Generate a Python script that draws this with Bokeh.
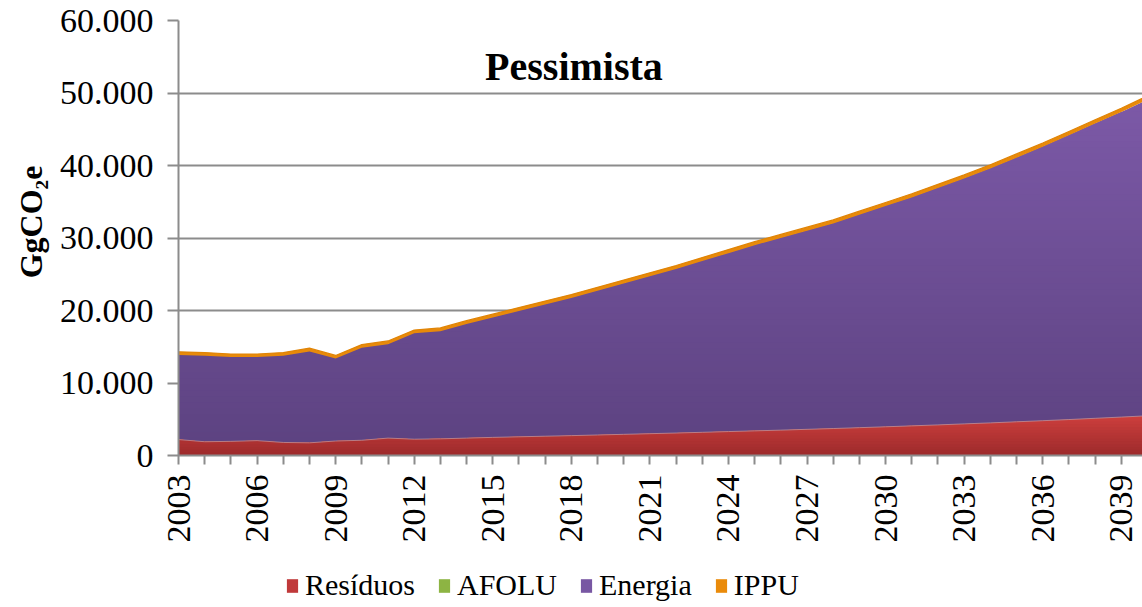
import numpy as np
from bokeh.plotting import figure
from bokeh.layouts import column
from bokeh.models import Range1d, FixedTicker, Label, Legend, LegendItem
from bokeh.embed import file_html
from bokeh.resources import INLINE

# ---------------- data (GgCO2e) ----------------
years = [2003, 2004, 2005, 2006, 2007, 2008, 2009, 2010, 2011, 2012,
         2013, 2014, 2015, 2016, 2017, 2018, 2019, 2020, 2021, 2022,
         2023, 2024, 2025, 2026, 2027, 2028, 2029, 2030, 2031, 2032,
         2033, 2034, 2035, 2036, 2037, 2038, 2039, 2040]

residuos = [2200, 1900, 1950, 2050, 1800, 1750, 2000, 2100, 2400, 2250,
            2300, 2400, 2500, 2580, 2660, 2740, 2830, 2920, 3010, 3100,
            3200, 3300, 3400, 3500, 3610, 3720, 3840, 3960, 4090, 4220,
            4360, 4500, 4650, 4800, 4960, 5130, 5300, 5480]

afolu = [0, 0, 0, 0, 0, 0, 0, 0, 0, 0,
         0, 0, 0, 0, 0, 0, 0, 0, 0, 0,
         0, 0, 0, 0, 0, 0, 0, 0, 0, 0,
         0, 0, 0, 0, 0, 0, 0, 0]

energia = [11650, 11860, 11620, 11520, 11960, 12600, 11380, 12760, 12960, 14600,
           14850, 15750, 16540, 17360, 18180, 18990, 19900, 20810, 21710, 22620,
           23620, 24610, 25610, 26510, 27390, 28280, 29360, 30440, 31500, 32670,
           33830, 35090, 36430, 37780, 39220, 40650, 42070, 43590]

ippu = [450, 440, 430, 430, 440, 450, 420, 440, 440, 450,
        450, 450, 460, 460, 460, 470, 470, 470, 480, 480,
        480, 490, 490, 490, 500, 500, 500, 500, 510, 510,
        510, 510, 520, 520, 520, 520, 530, 530]

series_names = ["Resíduos", "AFOLU", "Energia", "IPPU"]
series_colors = ["#c0393a", "#8db443", "#7857a3", "#ea8b0a"]
y_ticks = [0, 10000, 20000, 30000, 40000, 50000, 60000]
y_labels = ["0", "10.000", "20.000", "30.000", "40.000", "50.000", "60.000"]
x_label_years = [2003, 2006, 2009, 2012, 2015, 2018, 2021, 2024, 2027, 2030, 2033, 2036, 2039]

# ---------------- styling helpers ----------------
FONT = "Liberation Serif"


def hex2rgb(h):
    h = h.lstrip("#")
    return [int(h[i:i + 2], 16) for i in (0, 2, 4)]


def mix(c_low, c_high, t):
    a, b = hex2rgb(c_low), hex2rgb(c_high)
    return "#%02x%02x%02x" % tuple(int(round(a[i] + (b[i] - a[i]) * t)) for i in range(3))


x = np.array(years, dtype=float)
r = np.array(residuos, dtype=float)
s1 = r + np.array(afolu, dtype=float)
s2 = s1 + np.array(energia, dtype=float)
s3 = s2 + np.array(ippu, dtype=float)

p = figure(width=1142, height=560,
           x_range=Range1d(2003, 2039.81), y_range=Range1d(0, 60000),
           output_backend="svg", toolbar_location=None,
           min_border_left=178, min_border_right=0,
           min_border_top=20, min_border_bottom=105)
p.background_fill_color = "white"
p.border_fill_color = "white"
p.outline_line_color = None

# Energia (purple) vertical gradient, built as nested bands
PURPLE_LOW, PURPLE_HIGH = "#5c4280", "#7c59a7"
n_p = 60
vmax_p = s2.max()
for k in range(n_p, 0, -1):
    top = vmax_p * k / n_p
    col = mix(PURPLE_LOW, PURPLE_HIGH, (k - 0.5) / n_p)
    p.varea(x=x, y1=np.zeros_like(x), y2=np.minimum(s2, top),
            fill_color=col, fill_alpha=1.0)

# AFOLU (zero-height) stacked layer
p.varea(x=x, y1=r, y2=s1, fill_color=series_colors[1])

# Resíduos (red) vertical gradient
RED_LOW, RED_HIGH = "#9c2a2b", "#cd3f3d"
n_r = 14
vmax_r = r.max()
for k in range(n_r, 0, -1):
    top = vmax_r * k / n_r
    col = mix(RED_LOW, RED_HIGH, (k - 0.5) / n_r)
    p.varea(x=x, y1=np.zeros_like(x), y2=np.minimum(r, top),
            fill_color=col, fill_alpha=1.0)
p.line(x, r, line_color="#b8909c", line_width=1, line_alpha=0.8)

# IPPU (thin orange band on top)
p.varea(x=x, y1=s2, y2=s3, fill_color="#e88a0a")
p.line(x, s3, line_color="#e08406", line_width=1.2)

# ---------------- axes ----------------
GRAY = "#8c8c8c"
p.xgrid.visible = False
p.ygrid.ticker = FixedTicker(ticks=y_ticks)
p.ygrid.grid_line_color = GRAY
p.ygrid.grid_line_width = 2

p.yaxis.ticker = FixedTicker(ticks=y_ticks)
p.yaxis.major_label_overrides = dict(zip(y_ticks, y_labels))
p.yaxis.major_label_text_font = FONT
p.yaxis.major_label_text_font_size = "34px"
p.yaxis.major_label_text_color = "black"
p.yaxis.major_label_standoff = 14
p.yaxis.major_tick_out = 11
p.yaxis.major_tick_in = 0
p.yaxis.minor_tick_line_color = None
p.yaxis.axis_line_color = GRAY
p.yaxis.axis_line_width = 2
p.yaxis.major_tick_line_color = GRAY
p.yaxis.major_tick_line_width = 2
p.yaxis.axis_label = "\u2002\u2002GgCO\u2082e"
p.yaxis.axis_label_text_font = FONT
p.yaxis.axis_label_text_font_size = "32px"
p.yaxis.axis_label_text_font_style = "bold"
p.yaxis.axis_label_text_color = "black"
p.yaxis.axis_label_standoff = 8

p.xaxis.ticker = FixedTicker(ticks=years)
p.xaxis.major_label_overrides = {yr: (str(yr) if yr in x_label_years else "") for yr in years}
p.xaxis.major_label_orientation = np.pi / 2
p.xaxis.major_label_text_font = FONT
p.xaxis.major_label_text_font_size = "34px"
p.xaxis.major_label_text_color = "black"
p.xaxis.major_label_standoff = 10
p.xaxis.major_tick_out = 9
p.xaxis.major_tick_in = 0
p.xaxis.minor_tick_line_color = None
p.xaxis.axis_line_color = GRAY
p.xaxis.axis_line_width = 2
p.xaxis.major_tick_line_color = GRAY
p.xaxis.major_tick_line_width = 2

# ---------------- title inside plot ----------------
p.add_layout(Label(x=2018.1, y=53600, text="Pessimista", text_font=FONT,
                   text_font_size="40px", text_font_style="bold",
                   text_align="center", text_baseline="alphabetic",
                   text_color="black"))

# ---------------- legend (separate strip below the chart) ----------------
lg = figure(width=1142, height=47, x_range=Range1d(0, 1), y_range=Range1d(0, 1),
            output_backend="svg", toolbar_location=None,
            min_border_left=0, min_border_right=0, min_border_top=0, min_border_bottom=0)
lg.axis.visible = False
lg.grid.visible = False
lg.outline_line_color = None
lg.background_fill_color = "white"
lg.border_fill_color = "white"

items = []
for name, col in zip(series_names, series_colors):
    rr = lg.varea(x=[0], y1=[0], y2=[0], fill_color=col)
    items.append(LegendItem(label=name, renderers=[rr]))

legend = Legend(items=items, orientation="horizontal", location=(107, 5),
                glyph_width=14, glyph_height=17, label_standoff=6, spacing=22,
                padding=0, margin=0, border_line_color=None,
                background_fill_alpha=0, label_text_font=FONT,
                label_text_font_size="30px", label_text_color="black")
lg.add_layout(legend, "center")

open("out.html", "w").write(file_html(column(p, lg, spacing=0), INLINE))
